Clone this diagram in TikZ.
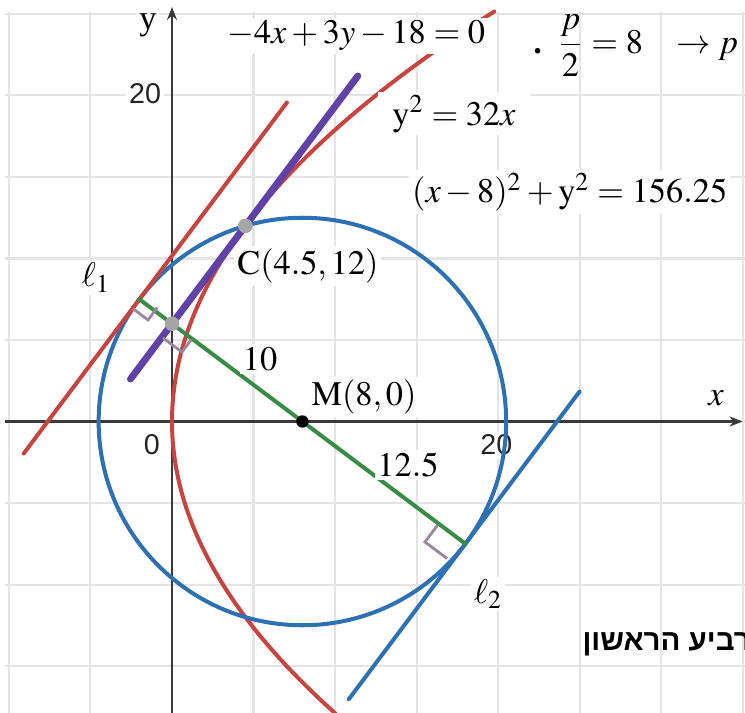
\documentclass[tikz,border=0pt]{standalone}
\usepackage{mathptmx}
\usepackage{fontspec}
\setmainfont{Liberation Serif}
\newfontfamily\tickfont{Liberation Sans}
\newfontfamily\hebfont[Script=Hebrew]{Liberation Sans}
\TeXXeTstate=1
\usetikzlibrary{arrows.meta}
\definecolor{palRed}{HTML}{C74440}
\definecolor{palBlue}{HTML}{2D70B3}
\definecolor{palGreen}{HTML}{388C46}
\definecolor{palPurple}{HTML}{6042A6}
\definecolor{palMark}{HTML}{9A88A0}
\definecolor{palGrid}{HTML}{E4E4E4}
\definecolor{palAxis}{HTML}{3A3A3A}
\definecolor{palDot}{HTML}{A6A6A6}

\begin{document}
\begin{tikzpicture}[x=0.2cm, y=0.2cm,
    curve/.style={line width=1.4pt, line cap=round},
    axis/.style={palAxis, line width=1pt, -{Stealth[length=4.5pt, width=3.5pt]}},
    lbl/.style={font=\fontsize{12}{14}\selectfont, fill=white, inner sep=1pt},
    tick/.style={font=\tickfont\fontsize{10}{12}\selectfont, text=black!85, fill=white, inner sep=1pt},
    rmark/.style={palMark, line width=1pt},
]
\useasboundingbox (-10.552,-17.883) rectangle (35.153,25.859);
% grid and axes
\draw[palGrid, line width=0.7pt] (-10.25,-17.9) grid[step=5] (35.2,25.1);
\draw[axis] (-10.25,0) -- (35.0,0);
\draw[axis] (0,-17.9) -- (0,25.43);
\node[lbl] (ylab) at (-1.47,24.33) {y};
\node[lbl, fill=none] (xlab) at (33.37,1.44) {$x$};
\node[tick] (t20y) at (-1.65,20.1) {20};
\node[tick] (t0) at (-1.23,-1.44) {0};
\node[tick] (t20x) at (19.9,-1.44) {20};

% points
\coordinate (M) at (8,0);
\coordinate (C) at (4.5,12);
\coordinate (F) at (0,6);
\coordinate (T1) at (-2,7.5);
\coordinate (T2) at (18,-7.5);
\coordinate (Pa) at (-2.55,2.6);
\coordinate (Pb) at (11.4,21.2);
\coordinate (L1a) at (-9.1,-1.967);
\coordinate (L1b) at (7.05,19.567);
\coordinate (L2a) at (10.85,-17.033);
\coordinate (L2b) at (25,1.833);

% curves
\draw[curve, palRed] plot[domain=-17.9:25.15, samples=120, variable=\t] ({\t*\t/32}, \t);
\draw[curve, palBlue] (M) circle (12.5);
\draw[curve, palRed] (L1a) -- (L1b);
\draw[curve, palBlue] (L2a) -- (L2b);
\draw[curve, palPurple, line width=2.4pt] (Pa) -- (Pb);
\draw[curve, palGreen] (T1) -- (T2);

% right angles
\draw[rmark] (-2.39,6.92) -- (-1.47,6.23) -- (-0.9,6.99);
\draw[rmark] (-0.55,5.13) -- (0.61,4.26) -- (1.18,5.02);
\draw[rmark] (16.3,-6.35) -- (15.52,-7.39) -- (16.88,-8.41);

\fill[palDot] (C) circle (0.45);
\fill[palDot] (F) circle (0.45);
\fill[black] (M) circle (0.38);

% labels
\node[lbl] (eqline) at (11.3,23.65) {$-4x+3y-18=0$};
\node[lbl, inner xsep=5pt] (eqpar) at (17.3,18.87) {$\mathrm{y}^2=32x$};
\node[lbl] (eqcirc) at (24.4,14.07) {$(x-8)^2+\mathrm{y}^2=156.25$};
\node[lbl, fill=none] (half) at (28.45,23.04) {$\textbf{.}\;\;\displaystyle\frac{p}{2}=8\hspace{9pt}\rightarrow p$};
\node[lbl] (Clab) at (8.34,9.54) {$\mathrm{C}(4.5,12)$};
\node[lbl] (Mlab) at (11.78,1.5) {$\mathrm{M}(8,0)$};
\node[lbl] (d10) at (5.4,3.83) {$10$};
\node[lbl] (d125) at (14.48,-2.67) {$12.5$};
\node[lbl] (l1lab) at (-4.66,8.83) {$\ell_1$};
\node[lbl] (l2lab) at (19.39,-10.58) {$\ell_2$};
\node[font=\hebfont\bfseries\fontsize{10.3}{12}\selectfont, anchor=base east, inner sep=0pt] (quad) at (35.55,-14.02) {\beginR רביע הראשון\endR};
\end{tikzpicture}
\end{document}
